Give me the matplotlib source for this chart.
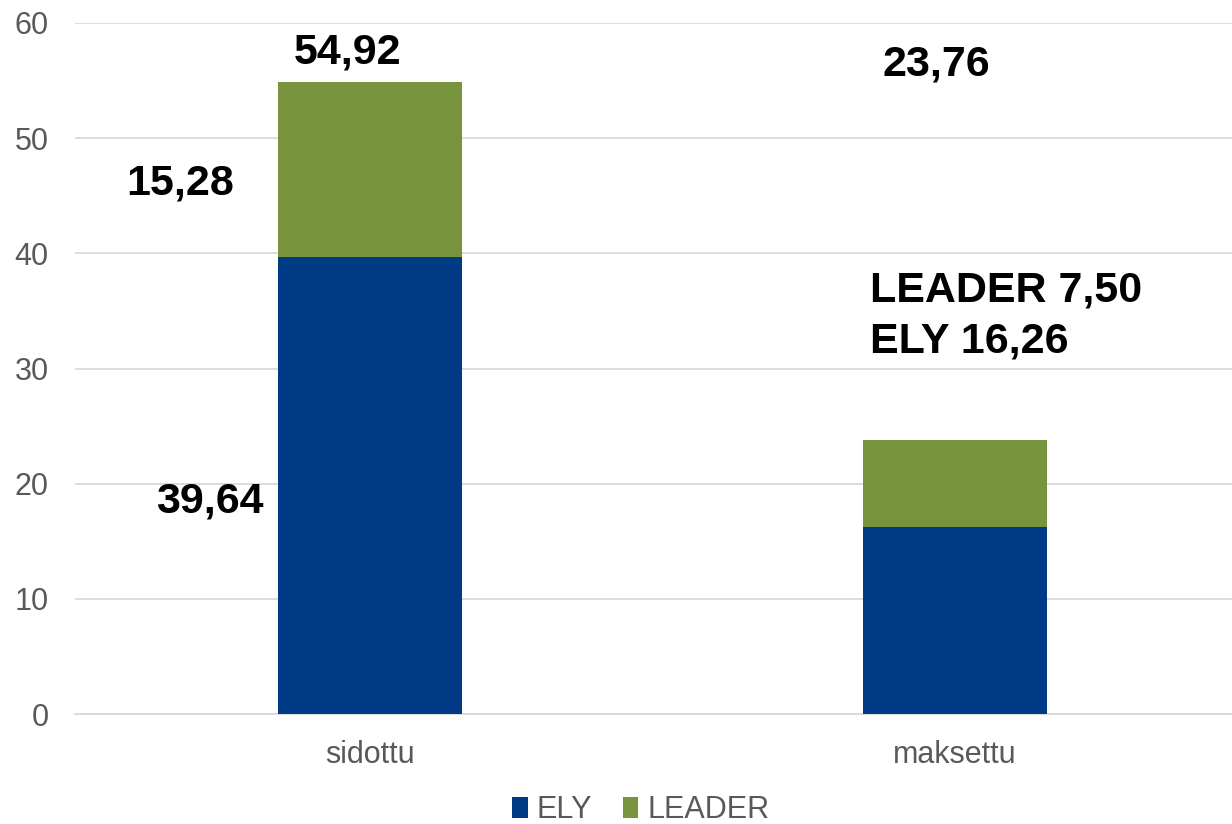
import matplotlib
matplotlib.use("Agg")
import matplotlib.pyplot as plt

categories = ["sidottu", "maksettu"]
ely = [39.64, 16.26]
leader = [15.28, 7.50]
series_names = ["ELY", "LEADER"]
yticks = [0, 10, 20, 30, 40, 50, 60]

ELY_C = "#003A84"
LEADER_C = "#77933C"
GRID_C = "#D9D9D9"
TXT_C = "#595959"

plt.rcParams['font.family'] = ['Liberation Sans', 'DejaVu Sans']

fig = plt.figure(figsize=(12.32, 8.24), dpi=100)
ax = fig.add_axes([75/1232, 110/824, 1 - 75/1232, (801-110)/824])

x = list(range(len(categories)))
w = 0.315
ax.bar(x, ely, width=w, color=ELY_C, label=series_names[0], zorder=3)
ax.bar(x, leader, width=w, bottom=ely, color=LEADER_C, label=series_names[1], zorder=3)

ax.set_xlim(-0.504, 1.473)
ax.set_ylim(0, 60)
ax.set_yticks(yticks)
ax.set_xticks(x)
ax.set_xticklabels(categories)
ax.tick_params(axis='both', length=0, labelsize=22, colors=TXT_C)
ax.tick_params(axis='y', pad=19)
ax.tick_params(axis='x', pad=19)
ax.yaxis.grid(True, color=GRID_C, linewidth=1.3, zorder=0)
for s in ["top", "right", "left"]:
    ax.spines[s].set_visible(False)
ax.spines["bottom"].set_color(GRID_C)
ax.spines["bottom"].set_linewidth(1.3)

def fmt(v):
    return f"{v:.2f}".replace(".", ",")

tot = [e + l for e, l in zip(ely, leader)]
lab = dict(fontsize=31, fontweight='bold', color='black', va='baseline')
# sidottu labels
ax.text(x[0] - 0.039, 56.5, fmt(tot[0]), ha='center', **lab)
ax.text(x[0] - 0.325, 45.1, fmt(leader[0]), ha='center', **lab)
ax.text(x[0] - 0.273, 17.5, fmt(ely[0]), ha='center', **lab)
# maksettu labels
ax.text(x[1] - 0.032, 55.4, fmt(tot[1]), ha='center', **lab)
ax.text(x[1] - 0.146, 35.8, f"{series_names[1]} {fmt(leader[1])}", ha='left', **lab)
ax.text(x[1] - 0.146, 31.4, f"{series_names[0]} {fmt(ely[1])}", ha='left', **lab)

leg = fig.legend(loc='center', bbox_to_anchor=(641/1232, 1 - 810/824), ncol=2,
                 frameon=False, fontsize=22, handlelength=0.5, handleheight=0.7,
                 handletextpad=0.3, columnspacing=1.0)
for t in leg.get_texts():
    t.set_color(TXT_C)

fig.savefig("out.png", dpi=100)
